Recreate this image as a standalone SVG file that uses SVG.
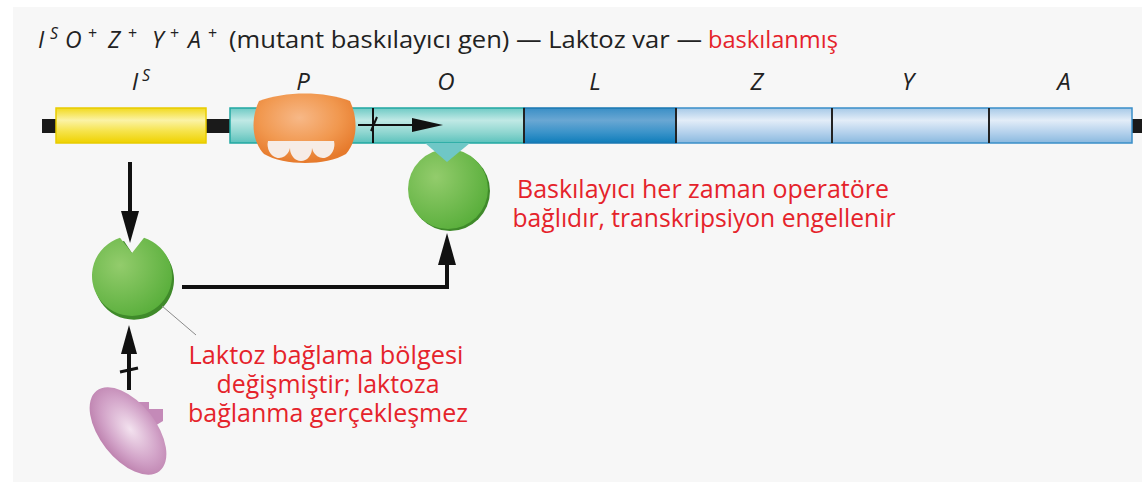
<svg xmlns="http://www.w3.org/2000/svg" width="1142" height="482" viewBox="0 0 1142 482">
  <defs>
    <linearGradient id="gYellow" x1="0" y1="0" x2="0" y2="1">
      <stop offset="0" stop-color="#f2da1e"/>
      <stop offset="0.35" stop-color="#fbf3a6"/>
      <stop offset="0.65" stop-color="#f6e44e"/>
      <stop offset="1" stop-color="#efd200"/>
    </linearGradient>
    <linearGradient id="gTeal" x1="0" y1="0" x2="0" y2="1">
      <stop offset="0" stop-color="#6fcac5"/>
      <stop offset="0.35" stop-color="#c0e9e5"/>
      <stop offset="0.7" stop-color="#8fd6d0"/>
      <stop offset="1" stop-color="#5cc2bc"/>
    </linearGradient>
    <linearGradient id="gDark" x1="0" y1="0" x2="0" y2="1">
      <stop offset="0" stop-color="#3a8fc6"/>
      <stop offset="0.35" stop-color="#6aa7d3"/>
      <stop offset="0.7" stop-color="#3a93c9"/>
      <stop offset="1" stop-color="#0f7dba"/>
    </linearGradient>
    <linearGradient id="gLight" x1="0" y1="0" x2="0" y2="1">
      <stop offset="0" stop-color="#a6c9e7"/>
      <stop offset="0.35" stop-color="#e3edf8"/>
      <stop offset="0.7" stop-color="#b4d1ec"/>
      <stop offset="1" stop-color="#8ab9df"/>
    </linearGradient>
    <radialGradient id="gOrange" cx="0.45" cy="0.35" r="0.65">
      <stop offset="0" stop-color="#f7b887"/>
      <stop offset="0.6" stop-color="#f1984f"/>
      <stop offset="1" stop-color="#e67a2c"/>
    </radialGradient>
    <radialGradient id="gGreen" cx="0.35" cy="0.35" r="0.7">
      <stop offset="0" stop-color="#93cc6c"/>
      <stop offset="1" stop-color="#5aaf3c"/>
    </radialGradient>
    <radialGradient id="gPurple" cx="0.5" cy="0.45" r="0.6">
      <stop offset="0" stop-color="#f3e2ef"/>
      <stop offset="0.6" stop-color="#d2a3c8"/>
      <stop offset="1" stop-color="#b97aa9"/>
    </radialGradient>
  </defs>
  <style>
    .title { font-family: "Open Sans", "Noto Sans", sans-serif; font-size: 23px; fill: #222; }
    .sup { font-family: "Open Sans", "Noto Sans", sans-serif; font-size: 16px; fill: #222; }
    .gene { font-family: "Open Sans", "Noto Sans", sans-serif; font-size: 24px; font-style: italic; fill: #222; text-anchor: middle; }
    .it { font-style: italic; }
    .red { font-family: "Open Sans", "Noto Sans", sans-serif; fill: #e5232b; text-anchor: middle; }
    .op { font-size: 25px; }
    .lac { font-size: 26px; }
    .conn { fill: none; stroke: #111; stroke-width: 4; }
    .divider { stroke: #222; stroke-width: 2; }
  </style>

  <!-- page -->
  <rect x="0" y="0" width="1142" height="482" fill="#ffffff"/>
  <rect x="13" y="7" width="1129" height="475" fill="#f7f7f7"/>

  <!-- heading: genotype, condition, outcome -->
  <g id="heading">
    <text class="title it" x="38" y="48">I</text>
    <text class="sup it" x="50" y="39">S</text>
    <text class="title it" x="65" y="48">O</text>
    <text class="sup" x="88" y="39">+</text>
    <text class="title it" x="108" y="48">Z</text>
    <text class="sup" x="128" y="39">+</text>
    <text class="title it" x="152" y="48">Y</text>
    <text class="sup" x="170" y="39">+</text>
    <text class="title it" x="188" y="48">A</text>
    <text class="sup" x="208" y="39">+</text>
    <text class="title" x="229" y="48" textLength="473" lengthAdjust="spacingAndGlyphs">(mutant baskılayıcı gen) — Laktoz var —</text>
    <text class="title" x="708" y="48" fill="#e5232b" style="fill:#e5232b" textLength="130" lengthAdjust="spacingAndGlyphs">baskılanmış</text>
  </g>

  <!-- gene labels -->
  <g id="labels">
    <text class="gene" x="135" y="90">I</text>
    <text class="sup it" x="142" y="81">S</text>
    <text class="gene" x="303" y="90">P</text>
    <text class="gene" x="446" y="90">O</text>
    <text class="gene" x="595" y="90">L</text>
    <text class="gene" x="757" y="90">Z</text>
    <text class="gene" x="908" y="90">Y</text>
    <text class="gene" x="1064" y="90">A</text>
  </g>

  <!-- DNA -->
  <g id="dna">
    <rect x="42" y="119" width="1100" height="14" fill="#1a1a1a"/>
    <rect x="56" y="108" width="150" height="35" fill="url(#gYellow)" stroke="#e8cc00" stroke-width="1.5"/>
    <rect x="230" y="108" width="294" height="35" fill="url(#gTeal)" stroke="#22a8a2" stroke-width="1.5"/>
    <rect x="524" y="108" width="152" height="35" fill="url(#gDark)" stroke="#1a78b2" stroke-width="1.5"/>
    <rect x="676" y="108" width="456" height="35" fill="url(#gLight)" stroke="#3a8fc9" stroke-width="1.5"/>
    <line class="divider" x1="524" y1="108" x2="524" y2="143"/>
    <line class="divider" x1="676" y1="108" x2="676" y2="143"/>
    <line class="divider" x1="832" y1="108" x2="832" y2="143"/>
    <line class="divider" x1="989" y1="108" x2="989" y2="143"/>
  </g>

  <!-- transcription start, blocked -->
  <g id="start">
    <line x1="373" y1="108" x2="373" y2="143" stroke="#111" stroke-width="2"/>
    <line x1="358" y1="125" x2="414" y2="125" stroke="#111" stroke-width="2"/>
    <polygon points="412,118 443,125 412,132" fill="#111"/>
    <line x1="371" y1="131" x2="377" y2="117" stroke="#111" stroke-width="2"/>
  </g>

  <!-- RNA polymerase -->
  <g id="polymerase">
    <path d="M259 101 C285 91 325 91 350 101 C358 118 358 140 346 154 C326 166 284 166 264 154 C251 140 251 118 259 101 Z" fill="url(#gOrange)"/>
    <path d="M268 141 L334 141 A11 13 0 0 1 312 148 A11 13 0 0 1 290 148 A11 13 0 0 1 268 141 Z" fill="#f6ece6"/>
  </g>

  <!-- repressor bound to operator -->
  <g id="repressor-bound">
    <circle cx="450" cy="191" r="40" fill="#3f8a2a"/>
    <circle cx="448" cy="189" r="40" fill="url(#gGreen)"/>
    <polygon points="425,143 470,143 447,162" fill="#6fc7c6"/>
  </g>

  <!-- free mutant repressor -->
  <g id="repressor">
    <path d="M122 239 L132 254 L142 239 A40 40 0 1 1 122 239 Z" transform="translate(2,2)" fill="#3f8a2a"/>
    <path d="M120 237.8 L132 253 L144 237.8 A40 40 0 1 1 120 237.8 Z" fill="url(#gGreen)"/>
  </g>

  <!-- lactose -->
  <g id="lactose">
    <path d="M134 410 L137 402 L149 402 L149 409 L163 409 L163 421 L148 430 Z" fill="#c48ab8"/>
    <ellipse cx="128" cy="431" rx="51" ry="28" transform="rotate(52 128 431)" fill="url(#gPurple)"/>
  </g>

  <!-- connectors -->
  <g id="connectors">
    <line class="conn" x1="130" y1="162" x2="130" y2="213"/>
    <polygon points="121,211 139,211 130,243" fill="#111"/>
    <polyline class="conn" points="182,287 447,287 447,262"/>
    <polygon points="438,265 456,265 447,233" fill="#111"/>
    <line class="conn" x1="129" y1="390" x2="129" y2="352"/>
    <polygon points="121,354 137,354 129,325" fill="#111"/>
    <line x1="120" y1="372" x2="138" y2="368" stroke="#111" stroke-width="3"/>
    <line x1="162" y1="306" x2="196" y2="335" stroke="#8a8a8a" stroke-width="1"/>
  </g>

  <!-- annotations -->
  <g id="note-operator">
    <text class="red op" x="703" y="198" textLength="372" lengthAdjust="spacingAndGlyphs">Baskılayıcı her zaman operatöre</text>
    <text class="red op" x="704" y="227" textLength="383" lengthAdjust="spacingAndGlyphs">bağlıdır, transkripsiyon engellenir</text>
  </g>
  <g id="note-lactose">
    <text class="red lac" x="326" y="364" textLength="275" lengthAdjust="spacingAndGlyphs">Laktoz bağlama bölgesi</text>
    <text class="red lac" x="328" y="393" textLength="223" lengthAdjust="spacingAndGlyphs">değişmiştir; laktoza</text>
    <text class="red lac" x="328" y="422" textLength="280" lengthAdjust="spacingAndGlyphs">bağlanma gerçekleşmez</text>
  </g>
</svg>
